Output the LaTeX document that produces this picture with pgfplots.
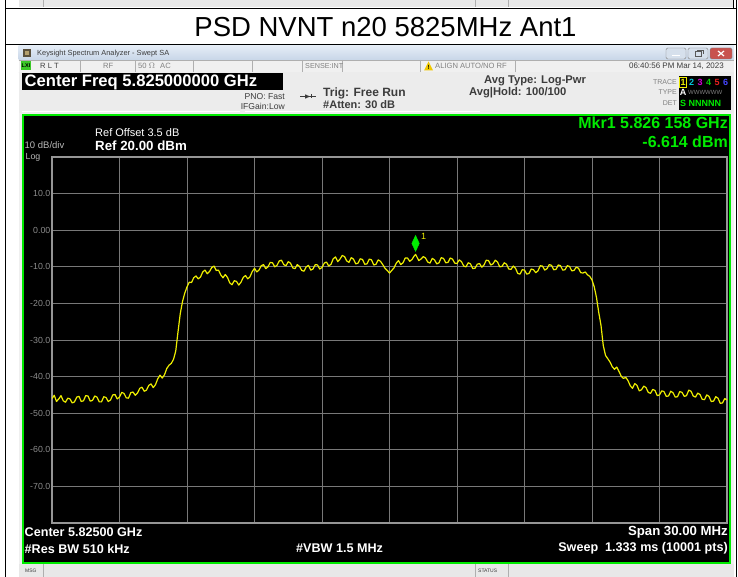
\documentclass[border=0pt]{standalone}
\usepackage{fontspec}
\setmainfont{Liberation Sans}
\usepackage{pgfplots}
\pgfplotsset{compat=1.18}
\definecolor{trc}{RGB}{238,238,0}
\definecolor{mgreen}{RGB}{0,235,0}
\definecolor{gridc}{RGB}{120,120,120}
\definecolor{framec}{RGB}{150,150,150}
\definecolor{lbl}{RGB}{140,140,140}
\definecolor{panel}{RGB}{240,240,240}
\definecolor{infop}{RGB}{236,236,236}
\definecolor{barA}{RGB}{200,214,232}
\definecolor{barB}{RGB}{228,236,246}
\definecolor{divc}{RGB}{175,175,175}
\definecolor{txtd}{RGB}{60,60,60}
\newcommand{\fs}[1]{\fontsize{#1}{#1}\selectfont}
\begin{document}
\begin{tikzpicture}
\begin{scope}[x=1pt,y=-1pt]
\useasboundingbox (0,0) rectangle (738,577);
\fill[white] (0,0) rectangle (738,577);
% remnant of previous screenshot
\fill[color={rgb,255:red,232;green,232;blue,232}] (19,0) rectangle (733,7.5);
\draw[divc] (43,0)--(43,7.5) (475,0)--(475,7.5) (508,0)--(508,7.5);
% table borders
\draw[black,line width=1.6pt] (5.5,0)--(5.5,577);
\draw[black,line width=1.6pt] (736.5,0)--(736.5,577);
\draw[black,line width=1.6pt] (5,8.5)--(737,8.5);
\draw[black,line width=1.2pt] (5,44.5)--(737,44.5);
\draw[black,line width=1pt] (733.5,0)--(733.5,8);
% title
\node[font=\fs{27.5}, anchor=center] at (385.5,27) {PSD NVNT n20 5825MHz Ant1};
% window
\fill[panel] (18.5,46) rectangle (734,577);
\shade[top color=barB, bottom color=barA] (18.5,46) rectangle (734,60);
\fill[color={rgb,255:red,90;green,80;blue,60}] (23,49.5) rectangle (31,57.5);
\fill[color={rgb,255:red,180;green,160;blue,110}] (25,51.5) rectangle (29,55.5);
\node[font=\fs{7.4}, text=txtd, anchor=west, inner sep=0] at (37,53.5) {Keysight Spectrum Analyzer - Swept SA};
% window buttons
\draw[rounded corners=1.5pt, draw=gray, fill={rgb,255:red,214;green,224;blue,236}] (666,48) rectangle (686,59);
\draw[white, line width=1.5pt] (672,55.5)--(680,55.5);
\draw[rounded corners=1.5pt, draw=gray, fill={rgb,255:red,214;green,224;blue,236}] (688,48) rectangle (708,59);
\draw[gray!70!black, line width=0.6pt] (695,51.5) rectangle (701,56.5) (697,50) -- (703,50) -- (703,54.5);
\draw[rounded corners=1.5pt, draw=gray, fill={rgb,255:red,200;green,82;blue,78}] (710,48) rectangle (732,59);
\draw[white, line width=1.2pt] (718,51)--(724,56) (718,56)--(724,51);
% status row
\fill[panel] (18.5,60) rectangle (734,72);
\draw[divc] (18.5,60)--(734,60) (18.5,72)--(734,72);
\draw[divc] (80,60)--(80,72) (135,60)--(135,72) (193,60)--(193,72) (252,60)--(252,72) (302,60)--(302,72) (342,60)--(342,72) (420,60)--(420,72) (515,60)--(515,72);
\fill[color={rgb,255:red,60;green,200;blue,40}] (21,61.5) rectangle (31,70.5);
\node[font=\bfseries\fs{5.5}, text=black, inner sep=0] at (26,66) {LXI};
\node[font=\fs{7.6}, text=txtd, anchor=west, inner sep=0] at (40,66) {R L T};
\node[font=\fs{7.6}, text=gray, anchor=west, inner sep=0] at (103,66) {RF};
\node[font=\fs{7.6}, text=gray, anchor=west, inner sep=0] at (138,66) {50 \(\Omega\)};
\node[font=\fs{7.6}, text=gray, anchor=west, inner sep=0] at (160,66) {AC};
\node[font=\fs{7.2}, text=gray, anchor=west, inner sep=0] at (305,66) {SENSE:INT};
\fill[color={rgb,255:red,240;green,200;blue,0}] (424,70.5)--(428.5,61.5)--(433,70.5)--cycle;
\node[font=\bfseries\fs{6}, text=black, inner sep=0] at (428.5,67.5) {!};
\node[font=\fs{7.6}, text=gray, anchor=west, inner sep=0] at (435,66) {ALIGN AUTO/NO RF};
\node[font=\fs{8}, text=txtd, anchor=east, inner sep=0] at (724,66.5) {06:40:56 PM Mar 14, 2023};
% info area
\fill[infop] (18.5,72.5) rectangle (734,113);
\draw[white, line width=0.8pt] (22,111) -- (240,111) (245,111)--(480,111);
\fill[black] (22,73.5) rectangle (283,90);
\node[font=\bfseries\fs{16.6}, text=white, anchor=west, inner sep=0] at (24.5,82) {Center Freq 5.825000000 GHz};
\node[font=\fs{8.6}, text=txtd, anchor=east, inner sep=0] at (285,96.5) {PNO: Fast};
\node[font=\fs{8.6}, text=txtd, anchor=east, inner sep=0] at (285,106.5) {IFGain:Low};
\draw[txtd, line width=0.7pt] (300,96.5)--(316,96.5) (311,94.5)--(311,98.5);
\fill[txtd] (305,94.3)--(310,96.5)--(305,98.7)--cycle;
\node[font=\bfseries\fs{12}, text=txtd, anchor=west, inner sep=0] at (323,93) {Trig: Free Run};
\node[font=\bfseries\fs{11}, text=txtd, anchor=west, inner sep=0] at (323,105) {\#Atten: 30 dB};
\node[font=\bfseries\fs{11.2}, text=txtd, anchor=west, inner sep=0] at (484,81) {Avg Type: Log-Pwr};
\node[font=\bfseries\fs{11.2}, text=txtd, anchor=west, inner sep=0] at (469,92.5) {Avg|Hold: 100/100};
% trace box
\node[font=\fs{7}, text=gray, anchor=east, inner sep=0] at (677,82) {TRACE};
\node[font=\fs{7}, text=gray, anchor=east, inner sep=0] at (677,92.5) {TYPE};
\node[font=\fs{7}, text=gray, anchor=east, inner sep=0] at (677,103) {DET};
\fill[black] (678.5,76.5) rectangle (731,110);
\draw[trc, line width=0.6pt] (679.5,77.5) rectangle (686.5,87);
\node[font=\bfseries\fs{9}, inner sep=0, text=trc] at (683,82.3) {1};
\node[font=\bfseries\fs{9}, inner sep=0, text={rgb,255:red,0;green,200;blue,220}] at (691.5,82.3) {2};
\node[font=\bfseries\fs{9}, inner sep=0, text={rgb,255:red,210;green,0;blue,210}] at (700,82.3) {3};
\node[font=\bfseries\fs{9}, inner sep=0, text={rgb,255:red,0;green,210;blue,0}] at (708.5,82.3) {4};
\node[font=\bfseries\fs{9}, inner sep=0, text={rgb,255:red,230;green,30;blue,30}] at (717,82.3) {5};
\node[font=\bfseries\fs{9}, inner sep=0, text={rgb,255:red,70;green,70;blue,255}] at (725.5,82.3) {6};
\node[font=\bfseries\fs{9}, inner sep=0, text=white] at (683,92.5) {A};
\node[font=\fs{6}, inner sep=0, text=gray, anchor=west] at (688,92.8) {WWWWWW};
\node[font=\bfseries\fs{9}, inner sep=0, text=mgreen] at (683,103.5) {S};
\node[font=\bfseries\fs{9}, inner sep=0, text=mgreen, anchor=west] at (688.5,103.5) {NNNNN};
% graph area
\fill[black] (22,114) rectangle (730,563);
\draw[mgreen, line width=2pt] (23,115) rectangle (729.5,562.5);
% bottom bar
\fill[color={rgb,255:red,232;green,232;blue,232}] (18.5,564) rectangle (734,577);
\draw[divc] (43,564)--(43,577) (475,564)--(475,577) (508,564)--(508,577);
\node[font=\fs{5}, text=txtd, anchor=west, inner sep=0] at (25,571) {MSG};
\node[font=\fs{5}, text=txtd, anchor=west, inner sep=0] at (478,571) {STATUS};
\end{scope}
\begin{axis}[
  at={(52pt,-523pt)}, anchor=south west,
  scale only axis, width=675pt, height=366pt,
  xmin=5810, xmax=5840, ymin=-80, ymax=20,
  xtick={5810,5813,5816,5819,5822,5825,5828,5831,5834,5837,5840},
  xticklabels={},
  ytick={-70,-60,-50,-40,-30,-20,-10,0,10},
  yticklabels={-70.0,-60.0,-50.0,-40.0,-30.0,-20.0,-10.0,0.00,10.0},
  major tick length=0pt,
  grid=major,
  grid style={draw=gridc, line width=0.9pt},
  axis line style={draw=framec, line width=1.2pt},
  axis background/.style={fill=black},
  yticklabel style={font=\fs{8.8}, text=lbl, inner sep=1.5pt},
  /pgf/number format/assume math mode=true,
]
\addplot[trc, line width=1.2pt, line join=round] coordinates {
(5810.0,-46.0) (5810.1,-45.1) (5810.2,-46.8) (5810.3,-46.1) (5810.4,-45.2) (5810.5,-46.6) (5810.6,-47.0) (5810.7,-45.9) (5810.8,-46.1) (5810.9,-47.2)
(5811.0,-46.9) (5811.1,-45.6) (5811.2,-45.4) (5811.3,-46.8) (5811.4,-46.6) (5811.5,-45.2) (5811.6,-45.3) (5811.7,-46.7) (5811.8,-46.5) (5811.9,-45.3)
(5812.0,-45.6) (5812.1,-46.9) (5812.2,-46.9) (5812.3,-45.5) (5812.4,-45.7) (5812.5,-46.8) (5812.6,-46.4) (5812.7,-45.0) (5812.8,-44.9) (5812.9,-46.1)
(5813.0,-45.6) (5813.1,-44.3) (5813.2,-44.6) (5813.3,-45.8) (5813.4,-45.9) (5813.5,-44.4) (5813.6,-44.2) (5813.7,-45.1) (5813.8,-44.5) (5813.9,-43.2)
(5814.0,-42.9) (5814.1,-44.0) (5814.2,-43.7) (5814.3,-42.4) (5814.4,-42.0) (5814.5,-43.0) (5814.6,-42.2) (5814.7,-40.6) (5814.8,-39.6) (5814.9,-40.4)
(5815.0,-39.5) (5815.1,-37.8) (5815.2,-36.9) (5815.3,-36.4) (5815.4,-35.3) (5815.5,-33.0) (5815.6,-27.8) (5815.7,-22.8) (5815.8,-19.5) (5815.9,-17.2)
(5816.0,-15.5) (5816.1,-14.2) (5816.2,-14.3) (5816.3,-13.0) (5816.4,-12.5) (5816.5,-13.3) (5816.6,-12.8) (5816.7,-11.4) (5816.8,-10.9) (5816.9,-11.9)
(5817.0,-11.3) (5817.1,-10.2) (5817.2,-9.8) (5817.3,-11.0) (5817.4,-10.9) (5817.5,-12.2) (5817.6,-13.0) (5817.7,-12.1) (5817.8,-12.9) (5817.9,-14.4)
(5818.0,-14.9) (5818.1,-13.8) (5818.2,-14.0) (5818.3,-15.0) (5818.4,-14.2) (5818.5,-12.9) (5818.6,-12.4) (5818.7,-13.3) (5818.8,-12.7) (5818.9,-11.3)
(5819.0,-10.4) (5819.1,-11.4) (5819.2,-10.9) (5819.3,-9.7) (5819.4,-9.4) (5819.5,-10.5) (5819.6,-10.0) (5819.7,-8.8) (5819.8,-8.9) (5819.9,-10.0)
(5820.0,-9.6) (5820.1,-8.4) (5820.2,-8.2) (5820.3,-9.4) (5820.4,-9.7) (5820.5,-8.6) (5820.6,-9.0) (5820.7,-10.3) (5820.8,-10.5) (5820.9,-9.4)
(5821.0,-9.9) (5821.1,-11.0) (5821.2,-11.2) (5821.3,-10.0) (5821.4,-9.6) (5821.5,-10.9) (5821.6,-10.6) (5821.7,-9.4) (5821.8,-9.5) (5821.9,-10.6)
(5822.0,-10.2) (5822.1,-9.0) (5822.2,-8.7) (5822.3,-9.8) (5822.4,-9.3) (5822.5,-7.8) (5822.6,-7.3) (5822.7,-8.6) (5822.8,-7.9) (5822.9,-6.9)
(5823.0,-7.2) (5823.1,-8.4) (5823.2,-8.8) (5823.3,-7.5) (5823.4,-7.9) (5823.5,-9.2) (5823.6,-9.0) (5823.7,-7.8) (5823.8,-8.0) (5823.9,-9.3)
(5824.0,-9.2) (5824.1,-7.9) (5824.2,-8.1) (5824.3,-9.5) (5824.4,-9.3) (5824.5,-8.1) (5824.6,-8.5) (5824.7,-9.4) (5824.8,-10.4) (5824.9,-11.0)
(5825.0,-11.7) (5825.1,-11.0) (5825.2,-10.3) (5825.3,-9.0) (5825.4,-8.3) (5825.5,-9.4) (5825.6,-8.9) (5825.7,-7.6) (5825.8,-7.6) (5825.9,-8.5)
(5826.0,-8.0) (5826.08,-7.2) (5826.16,-6.6) (5826.3,-8.3) (5826.4,-7.9) (5826.5,-7.2) (5826.6,-7.6) (5826.7,-8.7) (5826.8,-9.0) (5826.9,-7.7)
(5827.0,-8.1) (5827.1,-9.2) (5827.2,-8.9) (5827.3,-7.5) (5827.4,-7.7) (5827.5,-8.9) (5827.6,-8.8) (5827.7,-7.6) (5827.8,-7.9) (5827.9,-9.0)
(5828.0,-9.1) (5828.1,-8.1) (5828.2,-8.6) (5828.3,-9.8) (5828.4,-10.0) (5828.5,-8.9) (5828.6,-9.2) (5828.7,-10.5) (5828.8,-10.4) (5828.9,-9.3)
(5829.0,-9.1) (5829.1,-10.1) (5829.2,-9.5) (5829.3,-8.2) (5829.4,-8.3) (5829.5,-9.5) (5829.6,-9.2) (5829.7,-8.2) (5829.8,-8.7) (5829.9,-10.0)
(5830.0,-9.9) (5830.1,-8.9) (5830.2,-9.3) (5830.3,-10.6) (5830.4,-10.7) (5830.5,-9.8) (5830.6,-10.4) (5830.7,-11.8) (5830.8,-12.0) (5830.9,-10.8)
(5831.0,-10.9) (5831.1,-12.0) (5831.2,-11.8) (5831.3,-10.6) (5831.4,-10.8) (5831.5,-11.6) (5831.6,-11.1) (5831.7,-9.7) (5831.8,-9.8) (5831.9,-10.9)
(5832.0,-10.5) (5832.1,-9.4) (5832.2,-9.6) (5832.3,-10.8) (5832.4,-10.7) (5832.5,-9.5) (5832.6,-9.7) (5832.7,-10.9) (5832.8,-10.8) (5832.9,-9.7)
(5833.0,-9.9) (5833.1,-11.1) (5833.2,-11.0) (5833.3,-10.1) (5833.4,-10.4) (5833.5,-11.6) (5833.6,-11.7) (5833.7,-11.4) (5833.8,-12.2) (5833.9,-12.6)
(5834.0,-13.6) (5834.1,-15.5) (5834.2,-18.4) (5834.3,-22.5) (5834.4,-26.0) (5834.5,-31.5) (5834.6,-34.2) (5834.8,-36.0) (5834.9,-37.3)
(5835.0,-38.0) (5835.1,-37.4) (5835.2,-38.6) (5835.3,-39.9) (5835.4,-40.5) (5835.5,-40.2) (5835.6,-41.1) (5835.7,-42.5) (5835.8,-43.2) (5835.9,-41.9)
(5836.0,-42.4) (5836.1,-43.9) (5836.2,-43.6) (5836.3,-42.6) (5836.4,-43.0) (5836.5,-44.3) (5836.6,-44.6) (5836.7,-43.5) (5836.8,-43.8) (5836.9,-45.2)
(5837.0,-45.0) (5837.1,-43.9) (5837.2,-44.1) (5837.3,-45.4) (5837.4,-45.3) (5837.5,-44.0) (5837.6,-44.4) (5837.7,-45.6) (5837.8,-45.5) (5837.9,-44.1)
(5838.0,-44.3) (5838.1,-45.4) (5838.2,-45.2) (5838.3,-43.7) (5838.4,-44.0) (5838.5,-45.3) (5838.6,-45.6) (5838.7,-44.5) (5838.8,-44.9) (5838.9,-46.2)
(5839.0,-46.3) (5839.1,-45.0) (5839.2,-45.4) (5839.3,-46.8) (5839.4,-46.7) (5839.5,-45.5) (5839.6,-45.9) (5839.7,-47.3) (5839.8,-47.2) (5839.9,-46.0)
(5840.0,-46.4)
};
\addplot[only marks, mark=diamond*, mark size=8pt, color=mgreen, mark options={yshift=11pt, xscale=0.62}] coordinates {(5826.158,-6.614)};
\node[text=trc, font=\fs{9}, inner sep=0, xshift=8pt, yshift=18pt] at (axis cs:5826.158,-6.614) {1};
\end{axis}
\begin{scope}[x=1pt,y=-1pt]
\node[font=\fs{11}, text=white, anchor=west, inner sep=0] at (95,132.5) {Ref Offset 3.5 dB};
\node[font=\bfseries\fs{13.3}, text=white, anchor=west, inner sep=0] at (95,145.5) {Ref 20.00 dBm};
\node[font=\fs{9.5}, text=lbl!60!white, anchor=west, inner sep=0] at (24.5,145.5) {10 dB/div};
\node[font=\fs{8.8}, text=lbl!60!white, anchor=west, inner sep=0] at (25.5,157) {Log};
\node[font=\bfseries\fs{16}, text=mgreen, anchor=east, inner sep=0] at (728,122.5) {Mkr1 5.826 158 GHz};
\node[font=\bfseries\fs{16}, text=mgreen, anchor=east, inner sep=0] at (728,141.5) {-6.614 dBm};
\node[font=\bfseries\fs{12.6}, text=white, anchor=west, inner sep=0] at (24.5,532) {Center 5.82500 GHz};
\node[font=\bfseries\fs{12.6}, text=white, anchor=west, inner sep=0] at (24.5,548.5) {\#Res BW 510 kHz};
\node[font=\bfseries\fs{12.6}, text=white, anchor=west, inner sep=0] at (296,548.5) {\#VBW 1.5 MHz};
\node[font=\bfseries\fs{13.2}, text=white, anchor=east, inner sep=0] at (728,532) {Span 30.00 MHz};
\node[font=\bfseries\fs{12.6}, text=white, anchor=east, inner sep=0] at (728,548.5) {Sweep\ \ 1.333 ms (10001 pts)};
\end{scope}
\end{tikzpicture}
\end{document}
